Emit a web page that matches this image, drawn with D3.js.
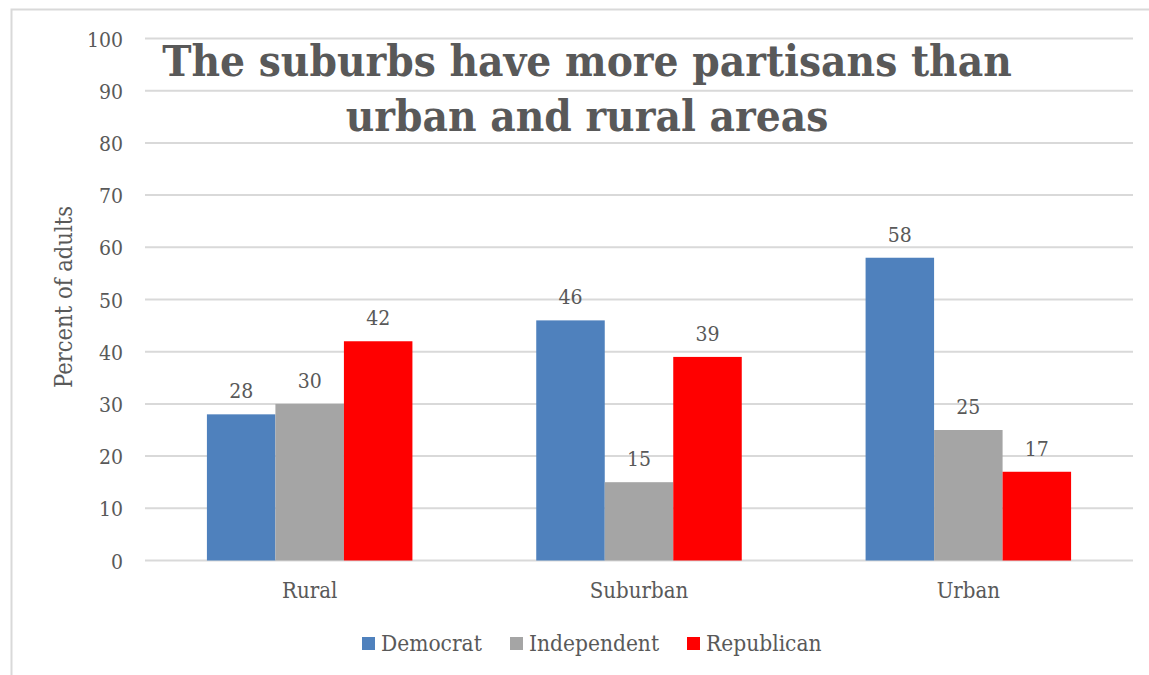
<html>
<head>
    <script src="https://d3js.org/d3.v7.min.js"></script>
    <style>
        body { margin: 0; background: white; }
        text { font-family: "DejaVu Serif Condensed", "DejaVu Serif", serif; fill: #595959; }
    </style>
</head>
<body>
    <svg id="chart" width="1149" height="675"></svg>
    <script>
        const categories = ["Rural", "Suburban", "Urban"]
        const seriesNames = ["Democrat", "Independent", "Republican"]
        const democrat = [28, 46, 58]
        const independent = [30, 15, 25]
        const republican = [42, 39, 17]
        const yTicks = [0, 10, 20, 30, 40, 50, 60, 70, 80, 90, 100]
        const titleLines = ["The suburbs have more partisans than", "urban and rural areas"]

        const colors = ["#4f81bd", "#a5a5a5", "#ff0000"]
        const series = [democrat, independent, republican]

        const svg = d3.select("#chart")
        const plotLeft = 145, plotRight = 1133, plotTop = 38.5, plotBottom = 560.5

        // chart area border (only top and left show in the crop)
        svg.append("path")
            .attr("d", "M11.5,675 V9.5 H1149")
            .style("fill", "none")
            .style("stroke", "#d9d9d9")
            .style("stroke-width", 2)

        const y = d3.scaleLinear().domain([0, 100]).range([plotBottom, plotTop])
        const x0 = d3.scaleBand().domain(categories).range([plotLeft, plotRight])
            .paddingInner(0.376).paddingOuter(0.188)
        const x1 = d3.scaleBand().domain(seriesNames).range([0, x0.bandwidth()])

        svg.append("g").selectAll("line").data(yTicks)
            .join("line")
            .attr("x1", plotLeft).attr("x2", plotRight)
            .attr("y1", d => y(d)).attr("y2", d => y(d))
            .style("stroke", "#d9d9d9")
            .style("stroke-width", 2)

        svg.append("g").selectAll("text").data(yTicks)
            .join("text")
            .attr("x", 123)
            .attr("y", d => y(d) + 8)
            .attr("text-anchor", "end")
            .style("font-size", "21px")
            .text(d => d)

        svg.append("text")
            .attr("transform", "translate(72,297) rotate(-90)")
            .attr("text-anchor", "middle")
            .style("font-size", "23.5px")
            .text("Percent of adults")

        const groups = svg.append("g").selectAll("g").data(categories)
            .join("g")
            .attr("transform", d => `translate(${x0(d)},0)`)

        groups.each(function (cat, ci) {
            const g = d3.select(this)
            seriesNames.forEach((s, si) => {
                const v = series[si][ci]
                g.append("rect")
                    .attr("x", x1(s))
                    .attr("width", x1.bandwidth())
                    .attr("y", y(v))
                    .attr("height", y(0) - y(v))
                    .style("fill", colors[si])
                g.append("text")
                    .attr("x", x1(s) + x1.bandwidth() / 2)
                    .attr("y", y(v) - 16)
                    .attr("text-anchor", "middle")
                    .style("font-size", "21px")
                    .text(v)
            })
        })

        svg.append("g").selectAll("text").data(categories)
            .join("text")
            .attr("x", d => x0(d) + x0.bandwidth() / 2)
            .attr("y", 598)
            .attr("text-anchor", "middle")
            .style("font-size", "22px")
            .text(d => d)

        // legend
        const legendX = [362, 510, 687]
        const legend = svg.append("g").selectAll("g").data(seriesNames)
            .join("g")
            .attr("transform", (d, i) => `translate(${legendX[i]},637)`)
        legend.append("rect")
            .attr("width", 13).attr("height", 13)
            .style("fill", (d, i) => colors[i])
        legend.append("text")
            .attr("x", 19).attr("y", 14)
            .style("font-size", "22.5px")
            .text(d => d)

        svg.append("g").selectAll("text").data(titleLines)
            .join("text")
            .attr("x", 587)
            .attr("y", (d, i) => 76 + i * 55)
            .attr("text-anchor", "middle")
            .style("font-size", "43.7px")
            .style("font-weight", "bold")
            .text(d => d)
    </script>
</body>
</html>
